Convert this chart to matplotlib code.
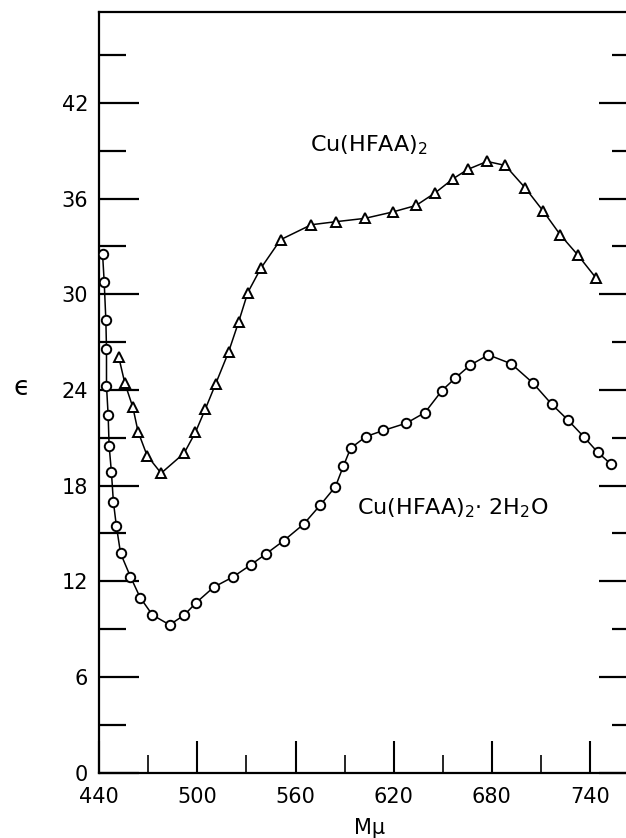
import matplotlib
matplotlib.use("Agg")
import matplotlib.pyplot as plt
from matplotlib.ticker import FixedLocator

# Cu(HFAA)2  (triangles)
anh_x = [451.9, 455.6, 460.5, 463.7, 469.2, 477.8, 491.9, 498.8, 504.9, 511.1,
         519.0, 525.2, 530.8, 538.7, 550.8, 569.6, 584.6, 602.4, 619.4, 633.7,
         645.5, 656.4, 665.3, 677.1, 688.2, 700.5, 711.4, 722.0, 732.6, 743.5]
anh_y = [26.06, 24.43, 22.92, 21.39, 19.89, 18.78, 20.04, 21.35, 22.82, 24.37,
         26.37, 28.27, 30.11, 31.62, 33.42, 34.36, 34.55, 34.76, 35.16, 35.57,
         36.37, 37.25, 37.83, 38.33, 38.08, 36.66, 35.22, 33.71, 32.46, 31.05]

# Cu(HFAA)2 . 2H2O  (circles)
hyd_x = [442.0, 443.0, 444.0, 444.4, 444.4, 445.4, 446.0, 447.4, 448.6, 450.4,
         453.0, 459.0, 465.0, 472.5, 483.0, 492.0, 499.3, 509.9, 521.5, 532.6,
         541.9, 552.8, 564.9, 575.2, 584.4, 589.3, 593.7, 603.1, 613.7, 627.8,
         639.1, 649.5, 657.6, 666.8, 677.9, 691.9, 705.0, 716.6, 726.4, 736.1,
         744.7, 752.8]
hyd_y = [32.52, 30.76, 28.40, 26.58, 24.26, 22.44, 20.50, 18.86, 17.00, 15.50,
         13.76, 12.30, 10.98, 9.89, 9.27, 9.89, 10.67, 11.63, 12.26, 13.03,
         13.72, 14.55, 15.58, 16.79, 17.94, 19.24, 20.35, 21.08, 21.46, 21.92,
         22.58, 23.96, 24.74, 25.56, 26.20, 25.64, 24.45, 23.11, 22.13, 21.08,
         20.10, 19.35]

x_major = [440, 500, 560, 620, 680, 740]
x_minor = [470, 530, 590, 650, 710, 770]
y_major = [0, 6, 12, 18, 24, 30, 36, 42]
y_minor = [3, 9, 15, 21, 27, 33, 39, 45]

label_anh = r"Cu(HFAA)$_2$"
label_hyd = r"Cu(HFAA)$_2$· 2H$_2$O"

plt.rcParams['font.family'] = ['DejaVu Sans']
plt.rcParams['mathtext.fontset'] = 'dejavusans'

W, H = 626, 838
fig = plt.figure(figsize=(W / 100, H / 100), dpi=100)
left_px, right_px, bottom_px, top_px = 99.3, 639.0, 772.7, 12.0
ax = fig.add_axes([left_px / W, (H - bottom_px) / H,
                   (right_px - left_px) / W, (bottom_px - top_px) / H])

ax.plot(anh_x, anh_y, color='black', lw=1.1, marker='^', ms=7.5,
        mfc='white', mec='black', mew=1.4, zorder=3)
ax.plot(hyd_x, hyd_y, color='black', lw=1.1, marker='o', ms=6.8,
        mfc='white', mec='black', mew=1.4, zorder=3)

ax.set_xlim(440, 770)
ax.set_ylim(0, 47.7)

for s in ax.spines.values():
    s.set_linewidth(1.6)

ax.xaxis.set_major_locator(FixedLocator(x_major))
ax.xaxis.set_minor_locator(FixedLocator(x_minor))
ax.yaxis.set_major_locator(FixedLocator(y_major))
ax.yaxis.set_minor_locator(FixedLocator(y_minor))

ax.tick_params(axis='x', which='major', direction='in', length=23, width=1.5,
               pad=10, labelsize=15, top=False)
ax.tick_params(axis='x', which='minor', direction='in', length=13, width=1.2,
               top=False)
ax.tick_params(axis='y', which='major', direction='in', length=29, width=1.6,
               pad=8, labelsize=15, right=True)
ax.tick_params(axis='y', which='minor', direction='in', length=19.5, width=1.6,
               right=True)

ax.set_xlabel("Mμ", fontsize=15, labelpad=8)
fig.text(22 / W, 1 - 388 / H, "ϵ", fontsize=19, ha='center', va='center')

ax.text(569.1, 38.94, label_anh, fontsize=16, ha='left', va='baseline')
ax.text(597.4, 16.17, label_hyd, fontsize=16, ha='left', va='baseline')

fig.savefig("out.png", dpi=100)
